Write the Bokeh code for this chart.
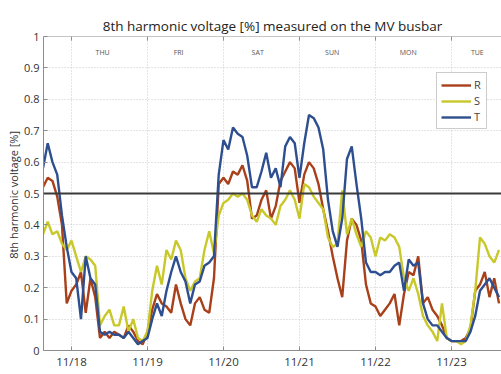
from bokeh.plotting import figure
from bokeh.models import (FixedTicker, Span, Label, Legend, LegendItem, Range1d)
from bokeh.embed import file_html
from bokeh.resources import INLINE
import numpy as np

# ---- data ----
DATE_LABELS = ["11/18", "11/19", "11/20", "11/21", "11/22", "11/23"]
DAY_NAMES = ["THU", "FRI", "SAT", "SUN", "MON", "TUE"]
DAY_NAME_POS = [0.41, 1.41, 2.45, 3.43, 4.43, 5.34]
LIMIT = 0.5

R = [0.52, 0.55, 0.54, 0.49, 0.40, 0.15, 0.19, 0.21, 0.25, 0.12, 0.23, 0.17, 0.04, 0.06, 0.04, 0.06,
     0.05, 0.04, 0.08, 0.06, 0.03, 0.02, 0.06, 0.13, 0.18, 0.15, 0.14, 0.12, 0.21, 0.15, 0.10, 0.08, 0.15,
     0.17, 0.13, 0.12, 0.23, 0.53, 0.55, 0.53, 0.57, 0.56, 0.59, 0.54, 0.42, 0.43, 0.48, 0.51, 0.42,
     0.46, 0.54, 0.57, 0.60, 0.58, 0.47, 0.56, 0.60, 0.58, 0.53, 0.45, 0.38, 0.30, 0.23, 0.17, 0.35,
     0.42, 0.40, 0.35, 0.21, 0.15, 0.14, 0.11, 0.13, 0.15, 0.18, 0.08, 0.18, 0.25, 0.24, 0.30, 0.15,
     0.17, 0.13, 0.11, 0.08, 0.04, 0.03, 0.03, 0.03, 0.04, 0.07, 0.19, 0.21, 0.25, 0.17, 0.23, 0.15]
S = [0.37, 0.41, 0.37, 0.38, 0.34, 0.32, 0.35, 0.30, 0.25, 0.30, 0.29, 0.27, 0.08, 0.11, 0.13, 0.08,
     0.08, 0.14, 0.06, 0.10, 0.04, 0.03, 0.06, 0.19, 0.27, 0.21, 0.32, 0.29, 0.35, 0.32, 0.23, 0.19, 0.22,
     0.23, 0.32, 0.38, 0.31, 0.43, 0.47, 0.48, 0.50, 0.49, 0.50, 0.48, 0.43, 0.41, 0.45, 0.43, 0.42,
     0.40, 0.46, 0.48, 0.51, 0.48, 0.42, 0.53, 0.52, 0.49, 0.47, 0.45, 0.36, 0.33, 0.34, 0.51, 0.37,
     0.42, 0.37, 0.33, 0.38, 0.36, 0.30, 0.36, 0.35, 0.37, 0.36, 0.33, 0.23, 0.19, 0.23, 0.18, 0.11,
     0.08, 0.06, 0.03, 0.15, 0.04, 0.03, 0.03, 0.02, 0.03, 0.08, 0.19, 0.36, 0.34, 0.30, 0.28, 0.32]
T = [0.58, 0.66, 0.60, 0.56, 0.43, 0.33, 0.25, 0.23, 0.10, 0.30, 0.23, 0.21, 0.06, 0.05, 0.06, 0.05,
     0.05, 0.04, 0.06, 0.04, 0.02, 0.03, 0.04, 0.10, 0.15, 0.11, 0.19, 0.25, 0.30, 0.25, 0.22, 0.15, 0.21,
     0.22, 0.27, 0.28, 0.30, 0.56, 0.67, 0.64, 0.71, 0.69, 0.68, 0.62, 0.52, 0.52, 0.57, 0.63, 0.55,
     0.58, 0.52, 0.65, 0.68, 0.66, 0.55, 0.66, 0.75, 0.74, 0.71, 0.64, 0.48, 0.38, 0.33, 0.42, 0.61,
     0.65, 0.53, 0.42, 0.28, 0.25, 0.25, 0.24, 0.25, 0.25, 0.27, 0.28, 0.19, 0.29, 0.27, 0.28, 0.15,
     0.10, 0.08, 0.08, 0.06, 0.04, 0.03, 0.03, 0.03, 0.03, 0.06, 0.11, 0.19, 0.21, 0.23, 0.20, 0.17]

# sample times in days after 11/18 00:00, 1.5 h apart
t = -0.375 + 0.0625 * np.arange(len(R))

FONT = "Open Sans"
AXIS_GRAY = "#8c8c8c"

p = figure(width=501, height=374, output_backend="svg", toolbar_location=None,
           x_range=Range1d(-0.368, 5.658), y_range=Range1d(0, 1),
           min_border_left=43, min_border_right=0, min_border_top=36, min_border_bottom=24,
           background_fill_color="white", border_fill_color="white")
p.outline_line_color = None

p.title.text = "8th harmonic voltage [%] measured on the MV busbar"
p.title.align = "center"
p.title.text_font = FONT
p.title.text_font_size = "13.5px"
p.title.text_font_style = "normal"
p.title.text_color = "#222222"
p.title.standoff = 3

# axes
xt = FixedTicker(ticks=list(range(len(DATE_LABELS))))
yt = FixedTicker(ticks=[i / 10 for i in range(11)])
p.xaxis.ticker = xt
p.xaxis.major_label_overrides = {i: lab for i, lab in enumerate(DATE_LABELS)}
p.yaxis.ticker = yt
p.yaxis.major_label_overrides = {0: "0", 1: "1"}
for ax in (p.xaxis[0], p.yaxis[0]):
    ax.axis_line_color = AXIS_GRAY
    ax.major_tick_line_color = AXIS_GRAY
    ax.major_tick_in = 4
    ax.major_tick_out = 0
    ax.minor_tick_line_color = None
    ax.major_label_text_font = FONT
    ax.major_label_text_color = "#333333"
p.xaxis.major_label_text_font_size = "11.5px"
p.yaxis.major_label_text_font_size = "11px"
p.xaxis.major_label_standoff = 3
p.yaxis.major_label_standoff = 4
p.yaxis.axis_label = "8th  harmonic voltage [%]"
p.yaxis.axis_label_text_font = FONT
p.yaxis.axis_label_text_font_size = "11px"
p.yaxis.axis_label_text_font_style = "normal"
p.yaxis.axis_label_text_color = "#333333"
p.yaxis.axis_label_standoff = 0

# top box edge with inward ticks (like the reference's boxed axes)
p.add_layout(Span(location=1, dimension="width", line_color=AXIS_GRAY, line_width=1))
p.segment(x0=xt.ticks, y0=[1] * len(xt.ticks), x1=xt.ticks, y1=[0.987] * len(xt.ticks),
          line_color=AXIS_GRAY, line_width=1)

p.xgrid.ticker = xt
p.ygrid.ticker = yt
for g in (p.xgrid[0], p.ygrid[0]):
    g.grid_line_color = "#c8c8c8"
    g.grid_line_dash = "1 2"
    g.grid_line_width = 1

# x axis title, drawn below the frame (cut by the window like the reference)
p.add_layout(Label(x=2.645, y=-0.049, text="Date [month/day]", text_align="center",
                   text_baseline="top", text_font=FONT, text_font_size="12px",
                   text_color="#333333"))

# day names
for name, pos in zip(DAY_NAMES, DAY_NAME_POS):
    p.add_layout(Label(x=pos, y=0.949, text=name, text_align="center", text_baseline="middle",
                       text_font=FONT, text_font_size="7px", text_color="#555555"))

rR = p.line(t, R, line_color="#A8401A", line_width=2.4)
rS = p.line(t, S, line_color="#C8C82A", line_width=2.4)
rT = p.line(t, T, line_color="#2E4F8F", line_width=2.4)

p.add_layout(Span(location=LIMIT, dimension="width", line_color="#3a3a3a", line_width=2))

legend = Legend(items=[LegendItem(label="R", renderers=[rR]),
                       LegendItem(label="S", renderers=[rS]),
                       LegendItem(label="T", renderers=[rT])],
                location=(393, 221), padding=4, spacing=1, glyph_width=30, glyph_height=14,
                label_standoff=3, label_width=8, label_text_font=FONT, label_text_font_size="11px",
                label_height=14, border_line_color="#9a9a9a", background_fill_alpha=1,
                margin=0)
p.add_layout(legend, "center")

open("out.html", "w").write(file_html(p, INLINE))
